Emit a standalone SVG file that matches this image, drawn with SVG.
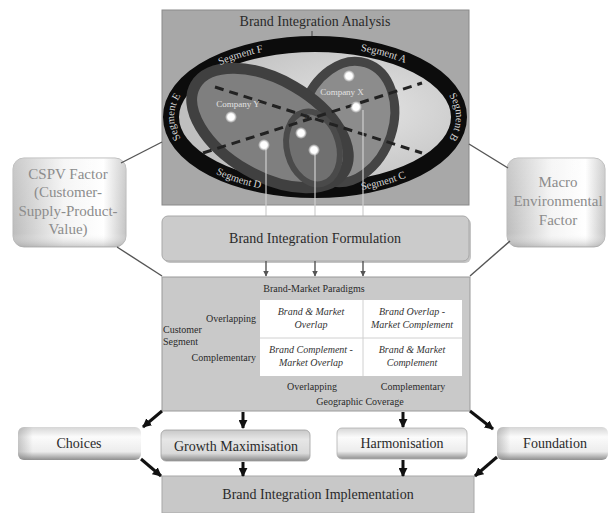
<svg xmlns="http://www.w3.org/2000/svg" width="608" height="513" viewBox="0 0 608 513">
<style>
.t{font-family:"Liberation Serif","Times New Roman",serif;fill:#2a2a2a}
.seg{font-family:"Liberation Serif","Times New Roman",serif;fill:#d8d8d8;font-size:10.5px}
.co{font-family:"Liberation Serif","Times New Roman",serif;fill:#e2e2e2;font-size:9px}
.side{font-family:"Liberation Serif","Times New Roman",serif;fill:#8c8c8c;font-size:15px}
.it{font-family:"Liberation Serif","Times New Roman",serif;font-style:italic;fill:#333;font-size:10px}
.thin{stroke:#555;stroke-width:1.4;fill:none}
.thick{stroke:#111;stroke-width:3;fill:none}
.vl{stroke:#cfcfcf;stroke-width:1.2;fill:none}
.dash{stroke:#222;stroke-width:3;stroke-dasharray:9 6;fill:none}
</style>
<defs>
<marker id="ah" viewBox="0 0 10 10" refX="9" refY="5" markerWidth="3" markerHeight="3" orient="auto">
<path d="M0,0 L10,5 L0,10 z" fill="#111"/>
</marker>
<marker id="ahs" viewBox="0 0 10 10" refX="9" refY="5" markerWidth="4" markerHeight="4" orient="auto">
<path d="M0,0 L10,5 L0,10 z" fill="#555"/>
</marker>
<linearGradient id="sideg" x1="0" y1="0" x2="1" y2="0">
<stop offset="0" stop-color="#bdbdbd"/>
<stop offset="0.45" stop-color="#f4f4f4"/>
<stop offset="0.8" stop-color="#ffffff"/>
<stop offset="1" stop-color="#c4c4c4"/>
</linearGradient>
<linearGradient id="sidev" x1="0" y1="0" x2="0" y2="1">
<stop offset="0" stop-color="#ffffff" stop-opacity="0.2"/>
<stop offset="0.85" stop-color="#ffffff" stop-opacity="0"/>
<stop offset="1" stop-color="#999" stop-opacity="0.5"/>
</linearGradient>
<linearGradient id="pill" x1="0" y1="0" x2="0" y2="1">
<stop offset="0" stop-color="#d6d6d6"/>
<stop offset="0.3" stop-color="#fbfbfb"/>
<stop offset="0.75" stop-color="#ececec"/>
<stop offset="1" stop-color="#8f8f8f"/>
</linearGradient>
<linearGradient id="pill2" x1="0" y1="0" x2="0" y2="1">
<stop offset="0" stop-color="#c8c8c8"/>
<stop offset="0.3" stop-color="#e6e6e6"/>
<stop offset="0.75" stop-color="#dadada"/>
<stop offset="1" stop-color="#8a8a8a"/>
</linearGradient>
<linearGradient id="endl" x1="0" y1="0" x2="1" y2="0">
<stop offset="0" stop-color="#888" stop-opacity="0.45"/>
<stop offset="0.12" stop-color="#888" stop-opacity="0"/>
<stop offset="1" stop-color="#888" stop-opacity="0"/>
</linearGradient>
<radialGradient id="inner" cx="0.65" cy="0.45" r="0.6">
<stop offset="0" stop-color="#e4e4e4"/>
<stop offset="1" stop-color="#bfbfbf"/>
</radialGradient>
<radialGradient id="dot" cx="0.5" cy="0.5" r="0.5">
<stop offset="0" stop-color="#ffffff"/>
<stop offset="0.55" stop-color="#ffffff"/>
<stop offset="1" stop-color="#ffffff" stop-opacity="0"/>
</radialGradient>
<path id="pE" d="M192.9,152 A141,70 0 0 1 192.9,82"/>
<path id="pF" d="M187.2,87.4 A141,70 0 0 1 302.7,47.3"/>
<path id="pA" d="M319.9,47 A141,70 0 0 1 439.5,84.2"/>
<path id="pB" d="M437.1,82 A141,70 0 0 1 437.1,152"/>
<path id="pD" d="M181.8,149.5 A147,77 0 0 0 302.2,193.7"/>
<path id="pC" d="M317.6,194 A147,77 0 0 0 443.6,154.3"/>
</defs>

<g id="analysis">
<rect x="162" y="10" width="307" height="195" fill="#a8a8a8" stroke="#8a8a8a" stroke-width="1"/>
<text class="t" x="315" y="26" font-size="14" text-anchor="middle">Brand Integration Analysis</text>
<line x1="312" y1="31" x2="312" y2="108" stroke="#444" stroke-width="1"/>
<ellipse cx="315" cy="117" rx="144" ry="73" fill="url(#inner)" stroke="#0c0c0c" stroke-width="16"/>
<ellipse cx="347" cy="122" rx="46" ry="62" transform="rotate(18 347 122)" fill="#8c8c8c" stroke="#444" stroke-width="9"/>
<ellipse cx="270" cy="128" rx="86" ry="48" transform="rotate(30 270 128)" fill="#7f7f7f" stroke="#404040" stroke-width="11"/>
<ellipse cx="313" cy="148" rx="26" ry="37" transform="rotate(-15 313 148)" fill="#707070" stroke="#4a4a4a" stroke-width="6"/>
<line class="dash" x1="215" y1="87" x2="422" y2="153"/>
<line class="dash" x1="203" y1="153" x2="422" y2="83"/>
<text class="t" x="303" y="121" font-size="11" fill="#333">?</text>
<text class="co" x="238" y="107" text-anchor="middle">Company Y</text>
<text class="co" x="342" y="95" text-anchor="middle">Company X</text>
<text class="seg"><textPath href="#pE" startOffset="50%" text-anchor="middle">Segment E</textPath></text>
<text class="seg"><textPath href="#pF" startOffset="50%" text-anchor="middle">Segment F</textPath></text>
<text class="seg"><textPath href="#pA" startOffset="50%" text-anchor="middle">Segment A</textPath></text>
<text class="seg"><textPath href="#pB" startOffset="50%" text-anchor="middle">Segment B</textPath></text>
<text class="seg"><textPath href="#pD" startOffset="50%" text-anchor="middle">Segment D</textPath></text>
<text class="seg"><textPath href="#pC" startOffset="50%" text-anchor="middle">Segment C</textPath></text>
<line class="vl" x1="266" y1="148" x2="266" y2="216"/>
<line class="vl" x1="315" y1="153" x2="315" y2="216"/>
<line class="vl" x1="363" y1="110" x2="363" y2="216"/>
<circle cx="349" cy="76" r="6" fill="url(#dot)"/>
<circle cx="356" cy="107" r="6" fill="url(#dot)"/>
<circle cx="231" cy="117" r="6" fill="url(#dot)"/>
<circle cx="301" cy="133" r="6" fill="url(#dot)"/>
<circle cx="264" cy="145" r="6" fill="url(#dot)"/>
<circle cx="314" cy="150" r="6" fill="url(#dot)"/>
</g>

<g id="cspv">
<rect x="13" y="158" width="113" height="89" rx="11" fill="url(#sideg)" stroke="#b8b8b8" stroke-width="1"/>
<rect x="13" y="158" width="113" height="89" rx="11" fill="url(#sidev)"/>
<text class="side" x="68" y="179" text-anchor="middle">CSPV Factor</text>
<text class="side" x="68" y="197" text-anchor="middle">(Customer-</text>
<text class="side" x="68" y="216" text-anchor="middle">Supply-Product-</text>
<text class="side" x="68" y="234" text-anchor="middle">Value)</text>
</g>

<g id="macro">
<rect x="507" y="158" width="98" height="89" rx="11" fill="url(#sideg)" stroke="#b8b8b8" stroke-width="1"/>
<rect x="507" y="158" width="98" height="89" rx="11" fill="url(#sidev)"/>
<text class="side" x="558" y="187" text-anchor="middle">Macro</text>
<text class="side" x="558" y="206" text-anchor="middle">Environmental</text>
<text class="side" x="558" y="225" text-anchor="middle">Factor</text>
</g>

<g id="formulation">
<rect x="164" y="218" width="307" height="45" rx="6" fill="#8a8a8a" opacity="0.5"/>
<rect x="162" y="216" width="307" height="45" rx="6" fill="#cbcbcb" stroke="#a8a8a8" stroke-width="1"/>
<text class="t" x="315" y="243" font-size="14" text-anchor="middle">Brand Integration Formulation</text>
</g>

<g id="paradigms">
<rect x="162" y="277" width="308" height="134" fill="#c9c9c9" stroke="#9a9a9a" stroke-width="1"/>
<text class="t" x="314" y="292" font-size="10" text-anchor="middle">Brand-Market Paradigms</text>
<rect x="260" y="300" width="202" height="76" fill="#ffffff"/>
<line x1="363" y1="300" x2="363" y2="376" stroke="#d0d0d0" stroke-width="1"/>
<line x1="260" y1="338" x2="462" y2="338" stroke="#d0d0d0" stroke-width="1"/>
<text class="it" x="311" y="315" text-anchor="middle">Brand &amp; Market</text>
<text class="it" x="311" y="328" text-anchor="middle">Overlap</text>
<text class="it" x="412" y="315" text-anchor="middle">Brand Overlap -</text>
<text class="it" x="412" y="328" text-anchor="middle">Market Complement</text>
<text class="it" x="311" y="353" text-anchor="middle">Brand Complement -</text>
<text class="it" x="311" y="366" text-anchor="middle">Market Overlap</text>
<text class="it" x="412" y="353" text-anchor="middle">Brand &amp; Market</text>
<text class="it" x="412" y="366" text-anchor="middle">Complement</text>
<text class="t" x="256" y="322" font-size="10" text-anchor="end">Overlapping</text>
<text class="t" x="163" y="333" font-size="10">Customer</text>
<text class="t" x="163" y="345" font-size="10">Segment</text>
<text class="t" x="256" y="361" font-size="10" text-anchor="end">Complementary</text>
<text class="t" x="312" y="390" font-size="10" text-anchor="middle">Overlapping</text>
<text class="t" x="413" y="390" font-size="10" text-anchor="middle">Complementary</text>
<text class="t" x="360" y="405" font-size="10" text-anchor="middle">Geographic Coverage</text>
</g>

<g id="choices">
<rect x="18" y="427" width="123" height="33" rx="6" fill="url(#pill)"/>
<rect x="18" y="427" width="123" height="33" rx="6" fill="url(#endl)"/>
<text class="t" x="79" y="448" font-size="14" text-anchor="middle">Choices</text>
</g>

<g id="growth">
<rect x="161" y="430" width="149" height="31" rx="5" fill="url(#pill2)" stroke="#a0a0a0" stroke-width="0.8"/>
<text class="t" x="236" y="451" font-size="14" text-anchor="middle">Growth Maximisation</text>
</g>

<g id="harmonisation">
<rect x="337" y="428" width="130" height="31" rx="5" fill="url(#pill)" stroke="#b0b0b0" stroke-width="0.8"/>
<text class="t" x="402" y="448" font-size="14" text-anchor="middle">Harmonisation</text>
</g>

<g id="foundation">
<rect x="497" y="427" width="111" height="33" rx="6" fill="url(#pill)"/>
<rect x="497" y="427" width="111" height="33" rx="6" fill="url(#endl)"/>
<text class="t" x="555" y="448" font-size="14" text-anchor="middle">Foundation</text>
</g>

<g id="implementation">
<rect x="162" y="476" width="312" height="37" fill="#c8c8c8" stroke="#a8a8a8" stroke-width="1"/>
<text class="t" x="318" y="499" font-size="14" text-anchor="middle">Brand Integration Implementation</text>
</g>

<g id="connectors">
<line class="thin" x1="121" y1="163" x2="162" y2="142"/>
<line class="thin" x1="117" y1="247" x2="162" y2="276"/>
<line class="thin" x1="469" y1="144" x2="508" y2="168"/>
<line class="thin" x1="510" y1="241" x2="470" y2="276"/>
<line class="thin" x1="266" y1="261" x2="266" y2="276" marker-end="url(#ahs)"/>
<line class="thin" x1="315" y1="261" x2="315" y2="276" marker-end="url(#ahs)"/>
<line class="thin" x1="363" y1="261" x2="363" y2="276" marker-end="url(#ahs)"/>
<line class="thick" x1="162" y1="411" x2="143" y2="427" marker-end="url(#ah)"/>
<line class="thick" x1="470" y1="411" x2="493" y2="429" marker-end="url(#ah)"/>
<line class="thick" x1="141" y1="459" x2="161" y2="476" marker-end="url(#ah)"/>
<line class="thick" x1="497" y1="457" x2="475" y2="476" marker-end="url(#ah)"/>
<line class="thick" x1="243" y1="412" x2="243" y2="428" stroke-width="2.5" marker-end="url(#ah)"/>
<line class="thick" x1="403" y1="412" x2="403" y2="427" stroke-width="2.5" marker-end="url(#ah)"/>
<line class="thick" x1="243" y1="462" x2="243" y2="476" stroke-width="2.5" marker-end="url(#ah)"/>
<line class="thick" x1="403" y1="460" x2="403" y2="476" stroke-width="2.5" marker-end="url(#ah)"/>
</g>
</svg>
